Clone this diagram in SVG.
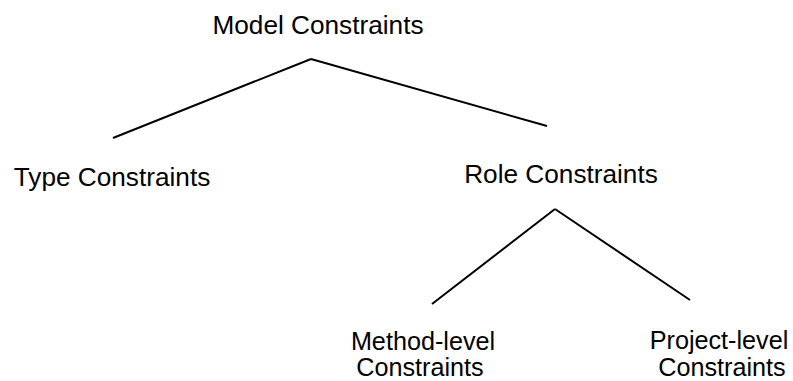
<svg xmlns="http://www.w3.org/2000/svg" width="793" height="381" viewBox="0 0 793 381">
  <style>
    .label { font-family: "Liberation Sans", Arial, sans-serif; font-size: 26.2px; fill: #000; }
    .small { font-size: 25.2px; }
    .edge { stroke: #000; stroke-width: 2; fill: none; }
  </style>
  <rect width="793" height="381" fill="#fff"/>
  <g id="connectors">
    <line class="edge" x1="311" y1="59" x2="113" y2="138"/>
    <line class="edge" x1="311" y1="59" x2="547" y2="126"/>
    <line class="edge" x1="555" y1="209" x2="432" y2="304"/>
    <line class="edge" x1="555" y1="209" x2="690" y2="300"/>
  </g>
  <g id="model-constraints">
    <text class="label" x="318" y="34" text-anchor="middle">Model Constraints</text>
  </g>
  <g id="type-constraints">
    <text class="label" x="112" y="186" text-anchor="middle">Type Constraints</text>
  </g>
  <g id="role-constraints">
    <text class="label" x="561" y="183" text-anchor="middle">Role Constraints</text>
  </g>
  <g id="method-level-constraints">
    <text class="label small" x="423" y="350" text-anchor="middle">Method-level</text>
    <text class="label small" x="420" y="376" text-anchor="middle">Constraints</text>
  </g>
  <g id="project-level-constraints">
    <text class="label small" x="719" y="349" text-anchor="middle">Project-level</text>
    <text class="label small" x="722" y="376" text-anchor="middle">Constraints</text>
  </g>
</svg>
